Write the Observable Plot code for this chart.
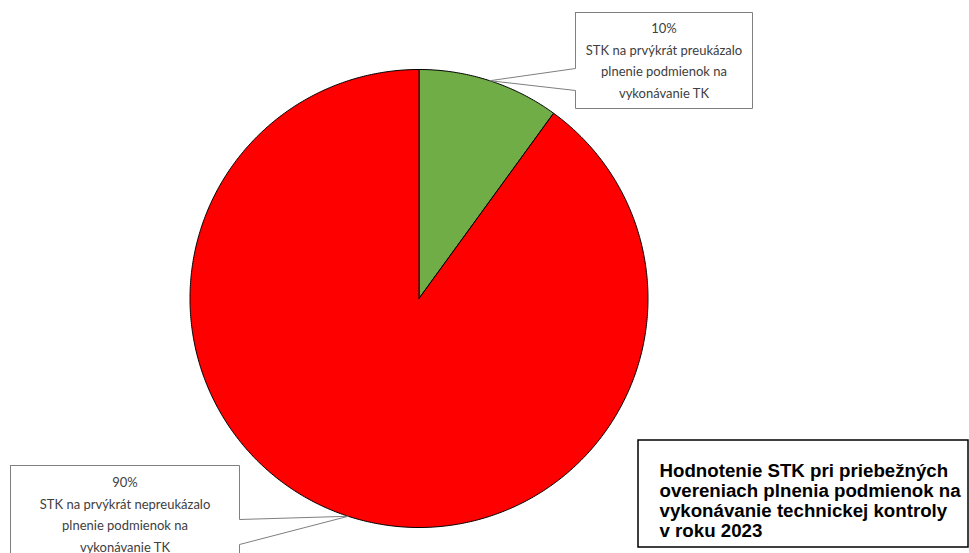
<!DOCTYPE html>
<html>
<head>
<meta charset="utf-8">
<script src="https://cdn.jsdelivr.net/npm/d3@7"></script>
<script src="https://cdn.jsdelivr.net/npm/@observablehq/plot@0.6"></script>
<style>
  html, body { margin: 0; padding: 0; background: #fff; }
  #chart svg { display: block; }
</style>
</head>
<body>
<div id="chart"></div>
<script>
// ---- data ----
const categories = [
  "STK na prvýkrát preukázalo plnenie podmienok na vykonávanie TK",
  "STK na prvýkrát nepreukázalo plnenie podmienok na vykonávanie TK"
];
const labelLines = [
  ["STK na prvýkrát preukázalo", "plnenie podmienok na", "vykonávanie TK"],
  ["STK na prvýkrát nepreukázalo", "plnenie podmienok na", "vykonávanie TK"]
];
const values = [10, 90];
const colors = ["#70AD47", "#FF0000"];
const titleLines = [
  "Hodnotenie STK pri priebežných",
  "overeniach plnenia podmienok na",
  "vykonávanie technickej kontroly",
  "v roku 2023"
];

// ---- layout ----
const W = 969, H = 553;
const cx = 418.5, cy = 298, R = 229;

const total = d3.sum(values);
let acc = 0;
const slices = values.map((v, i) => {
  const a0 = acc / total * 2 * Math.PI;
  acc += v;
  const a1 = acc / total * 2 * Math.PI;
  return {name: categories[i], value: v, a0, a1, mid: (a0 + a1) / 2, share: v / total};
});

const pt = (a, r) => ({x: cx + r * Math.sin(a), y: cy - r * Math.cos(a)});

// polygon points of each slice
const slicePts = [];
slices.forEach(s => {
  slicePts.push({name: s.name, ...pt(0, 0)});
  const n = Math.max(2, Math.ceil((s.a1 - s.a0) / (Math.PI / 360)));
  for (let k = 0; k <= n; k++) {
    const a = s.a0 + (s.a1 - s.a0) * k / n;
    slicePts.push({name: s.name, ...pt(a, R)});
  }
  slicePts.push({name: s.name, ...pt(0, 0)});
});

// callout boxes
const boxes = [
  {x0: 575, x1: 752, y0: 12, y1: 108, side: "left", p0: 68, p1: 90, ty: 58},
  {x0: 10, x1: 239, y0: 465, y1: 600, side: "right", p0: 519, p1: 544, ty: 512}
];
const calloutPts = [];
slices.forEach((s, i) => {
  const b = boxes[i];
  const tip = pt(s.mid, R);
  let poly;
  if (b.side === "left") {
    poly = [[b.x0, b.y0], [b.x1, b.y0], [b.x1, b.y1], [b.x0, b.y1], [b.x0, b.p1], [tip.x, tip.y], [b.x0, b.p0], [b.x0, b.y0]];
  } else {
    poly = [[b.x0, b.y0], [b.x1, b.y0], [b.x1, b.p0], [tip.x, tip.y], [b.x1, b.p1], [b.x1, b.y1], [b.x0, b.y1], [b.x0, b.y0]];
  }
  poly.forEach(([x, y]) => calloutPts.push({k: i, x, y}));
});
const calloutText = slices.map((s, i) => ({
  x: (boxes[i].x0 + boxes[i].x1) / 2,
  y: boxes[i].ty,
  text: d3.format(".0%")(s.share) + "\n" + labelLines[i].join("\n")
}));

const chart = Plot.plot({
  width: W,
  height: H,
  margin: 0,
  x: {domain: [0, W], range: [0, W], axis: null},
  y: {domain: [0, H], range: [0, H], axis: null},
  color: {domain: categories, range: colors},
  marks: [
    Plot.line(slicePts, {x: "x", y: "y", z: "name", fill: "name", stroke: "#000", strokeWidth: 1, curve: "linear"}),
    Plot.line(calloutPts, {x: "x", y: "y", z: "k", fill: "#fff", stroke: "#7f7f7f", strokeWidth: 1, curve: "linear"}),
    Plot.text(calloutText, {x: "x", y: "y", text: "text", lineAnchor: "middle", lineHeight: 1.68,
      fontSize: 13, fill: "#404040", fontFamily: "Lato, 'Open Sans', sans-serif"}),
    Plot.rect([{x1: 638, x2: 968, y1: 440, y2: 547}], {x1: "x1", x2: "x2", y1: "y1", y2: "y2",
      fill: "#fff", stroke: "#000", strokeWidth: 1.5}),
    Plot.text([titleLines.join("\n")], {x: 659, y: 500, text: d => d, textAnchor: "start", lineAnchor: "middle",
      lineHeight: 1.08, fontSize: 18.7, fontWeight: "bold", fill: "#000", fontFamily: "'Liberation Sans', Arial, sans-serif"})
  ]
});
document.getElementById("chart").appendChild(chart);
</script>
</body>
</html>
